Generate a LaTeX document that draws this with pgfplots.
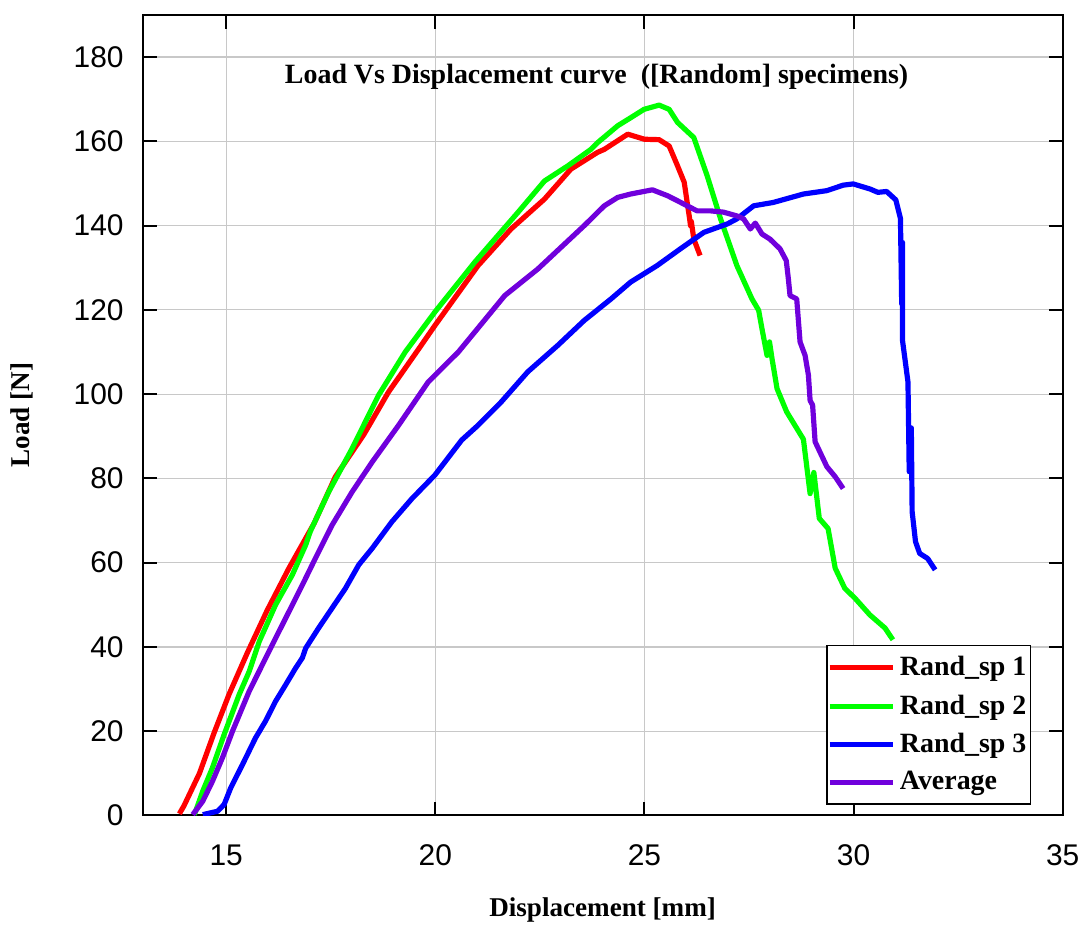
\documentclass[border=0pt]{standalone}
\usepackage{pgfplots}
\pgfplotsset{compat=1.18}
\usepackage{fontspec}
\setmainfont{Liberation Serif}
\newfontfamily\arial{Liberation Sans}

\definecolor{sp1}{RGB}{255,0,0}
\definecolor{sp2}{RGB}{0,255,0}
\definecolor{sp3}{RGB}{0,0,255}
\definecolor{avg}{RGB}{112,0,220}
\definecolor{gridgray}{RGB}{200,200,200}

\begin{document}
\begin{tikzpicture}
\begin{axis}[
  scale only axis,
  width=461.5pt, height=401.5pt,
  xmin=13, xmax=35, ymin=0, ymax=190,
  xtick={15,20,25,30,35},
  ytick={0,20,40,60,80,100,120,140,160,180},
  tick align=inside,
  major tick length=7pt,
  every tick/.style={black, line width=1pt},
  axis line style={black, line width=1pt},
  grid=major,
  major grid style={gridgray, line width=0.6pt},
  /pgf/number format/assume math mode=true,
  tick label style={font=\arial\fontsize{15}{15}\selectfont},
  xticklabel style={yshift=-11pt},
  yticklabel style={xshift=-6pt},
  xlabel={Displacement [mm]},
  ylabel={Load [N]},
  every axis x label/.style={at={(rel axis cs:0.5,-0.118)},anchor=center,
    inner sep=0pt, font=\bfseries\fontsize{13.6}{16}\selectfont},
  every axis y label/.style={at={(rel axis cs:-0.131,0.5)},rotate=90,anchor=center,
    inner sep=0pt, font=\bfseries\fontsize{13.6}{16}\selectfont},
  legend cell align=left,
  legend style={at={(rel axis cs:0.9655,0.0137)}, anchor=south east,
    draw=black, line width=0.6pt, fill=white,
    font=\bfseries\fontsize{14}{16}\selectfont,
    inner xsep=0pt, inner ysep=3.5pt, row sep=4pt},
  legend image code/.code={\draw[#1,line width=2.6pt] (0pt,0pt) -- (32pt,0pt);},
  every axis plot/.append style={line width=2.6pt, line join=round},
]
% Rand_sp 1
\addplot[sp1] coordinates {
(13.88,0.4) (13.99,2.3) (14.36,10) (14.71,19.6) (15.07,28.8) (15.5,38.5)
(15.98,48.7) (16.5,58.7) (17.1,69.3) (17.61,80.4) (18.29,90.4) (18.88,100.5)
(19.6,110.7) (19.99,116.3) (21.02,130.5) (21.81,139.2) (22.61,146.3)
(23.24,153.4) (23.88,157.4) (24.04,158.1) (24.6,161.7) (25.0,160.5)
(25.35,160.4) (25.59,158.9) (25.79,154.2) (25.95,150.3) (26.02,145.6)
(26.08,141.6) (26.1,140) (26.12,141) (26.18,136.8) (26.33,132.9)
};
\addlegendentry{Rand\_sp 1}
% Rand_sp 2
\addplot[sp2] coordinates {
(14.24,0.2) (14.44,5.8) (14.67,11.3) (14.95,19.2) (15.31,28.7) (15.55,34.2)
(15.79,41.3) (16.18,50) (16.58,57.1) (16.9,64.2) (17.01,67.4) (17.45,76.8)
(18.01,87.1) (18.64,99.7) (19.28,110) (19.99,119.5) (20.94,131.3)
(21.98,143.2) (22.61,150.6) (23.17,154.2) (23.72,158.1) (23.88,159.7)
(24.36,163.7) (24.67,165.6) (24.99,167.6) (25.35,168.6) (25.59,167.6)
(25.79,164.5) (26.18,160.9) (26.5,151.8) (26.82,141.6) (27.21,130.5)
(27.57,122.6) (27.73,119.9) (27.81,115.5) (27.93,109.2) (27.99,112.4)
(28.05,108.4) (28.17,101.3) (28.4,95.8) (28.8,89.3) (28.96,76.4)
(29.05,81.4) (29.18,70.5) (29.39,68.1) (29.56,58.7) (29.79,53.9)
(30.03,51.6) (30.39,47.6) (30.75,44.5) (30.94,41.7)
};
\addlegendentry{Rand\_sp 2}
% Rand_sp 3
\addplot[sp3] coordinates {
(14.44,0.2) (14.79,1.0) (14.95,2.6) (15.11,6.6) (15.39,12.1) (15.7,18.4)
(15.94,22.4) (16.18,27.1) (16.42,31.0) (16.66,35.0) (16.82,37.4)
(16.9,39.7) (17.21,44.5) (17.53,49.2) (17.85,53.9) (18.17,59.5)
(18.49,63.4) (18.96,69.7) (19.44,75.2) (19.99,80.8) (20.63,89.1)
(21.02,92.6) (21.58,98.2) (22.21,105.3) (22.93,111.6) (23.56,117.5)
(24.2,122.6) (24.67,126.6) (25.3,130.5) (25.86,134.5) (26.42,138.4)
(26.98,140.4) (27.21,141.6) (27.61,144.7) (28.08,145.5) (28.8,147.5)
(29.36,148.3) (29.75,149.6) (29.99,149.9) (30.39,148.7) (30.58,147.9)
(30.79,148.1) (31.01,146.1) (31.12,141.7) (31.15,121.4) (31.17,136)
(31.17,112.7) (31.3,102.9) (31.33,81.6) (31.38,92) (31.4,72.1)
(31.48,65) (31.58,62.2) (31.77,61) (31.95,58.3)
};
\addlegendentry{Rand\_sp 3}
% Average
\addplot[avg] coordinates {
(14.2,0.2) (14.44,3.4) (14.67,8.1) (14.91,13.7) (15.15,20) (15.55,29.5)
(16.02,38.9) (16.42,46.8) (16.82,54.7) (17.13,61) (17.53,68.9)
(18.01,76.8) (18.49,83.9) (19.12,92.6) (19.83,102.9) (20.55,110)
(21.66,123.4) (22.45,129.7) (23.56,140) (24.04,144.7) (24.36,146.7)
(24.67,147.5) (25.19,148.5) (25.55,147.1) (25.79,145.9) (26.02,144.7)
(26.26,143.5) (26.58,143.5) (26.89,143.2) (27.21,142.3) (27.37,141.6)
(27.53,139.2) (27.65,140.6) (27.81,138) (28.0,136.8) (28.24,134.5)
(28.39,131.7) (28.44,127.4) (28.48,123.4) (28.64,122.6) (28.72,112.4)
(28.84,109.2) (28.92,104.5) (28.96,98.5) (29.02,97.4) (29.08,88.7)
(29.36,82.8) (29.56,80.4) (29.75,77.6)
};
\addlegendentry{Average}
\node[font=\bfseries\fontsize{14}{16}\selectfont] at (rel axis cs:0.4935,0.923)
  {Load Vs Displacement curve\ \ ([Random] specimens)};
\end{axis}
\path ([shift={(-71.5pt,-57pt)}]current axis.south west) rectangle ([shift={(10pt,7.5pt)}]current axis.north east);
\end{tikzpicture}
\end{document}
